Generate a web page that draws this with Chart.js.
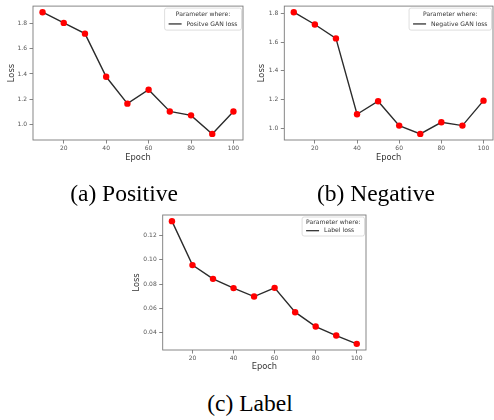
<!DOCTYPE html>
<html>
<head>
<meta charset="utf-8">
<script src="https://cdn.jsdelivr.net/npm/chart.js@4.4.0/dist/chart.umd.min.js"></script>
<style>
  html, body { margin: 0; padding: 0; width: 494px; height: 420px; overflow: hidden; background: #fff; }
  .panel { position: absolute; }
  .cap {
    position: absolute;
    font-family: "Liberation Serif", "DejaVu Serif", serif;
    font-size: 23.5px;
    color: #000;
    transform: translate(-50%, -50%);
    white-space: nowrap;
  }
</style>
</head>
<body>
<div class="panel" style="left:0;top:0"><canvas id="posChart" width="247" height="168"></canvas></div>
<div class="panel" style="left:247px;top:0"><canvas id="negChart" width="250" height="168"></canvas></div>
<div class="panel" style="left:120px;top:200px"><canvas id="lblChart" width="250" height="176"></canvas></div>
<div class="cap" style="left:124px;top:193px">(a) Positive</div>
<div class="cap" style="left:376px;top:193px">(b) Negative</div>
<div class="cap" style="left:250px;top:403px">(c) Label</div>

<script>
// Data
const epochs = [10, 20, 30, 40, 50, 60, 70, 80, 90, 100];
const positiveLoss = [1.89, 1.805, 1.72, 1.378, 1.165, 1.275, 1.103, 1.072, 0.925, 1.103];
const negativeLoss = [1.809, 1.723, 1.626, 1.097, 1.188, 1.018, 0.96, 1.041, 1.018, 1.192];
const labelLoss = [0.1322, 0.0957, 0.0843, 0.0766, 0.0696, 0.0768, 0.0566, 0.0447, 0.0372, 0.0303];

const epochTicks = [20, 40, 60, 80, 100];
const ganLossTicks = [1.0, 1.2, 1.4, 1.6, 1.8];
const labelLossTicks = [0.04, 0.06, 0.08, 0.10, 0.12];

const TICK_FONT = { family: "DejaVu Sans", size: 6 };
const TITLE_FONT = { family: "DejaVu Sans", size: 8.3 };
const TICK_COLOR = "#555";
const SPINE_COLOR = "#7a7a7a";

// matplotlib-like 5% margin around the data
function padRange(vals) {
  const lo = Math.min(...vals), hi = Math.max(...vals);
  const m = (hi - lo) * 0.05;
  return { min: lo - m, max: hi + m };
}

// frame (all four spines) + legend inside the axes, upper right
const framePlugin = {
  id: "frameLegend",
  afterDraw(chart, args, opts) {
    const { ctx, chartArea: a } = chart;
    ctx.save();
    ctx.strokeStyle = SPINE_COLOR;
    ctx.lineWidth = 0.9;
    ctx.strokeRect(a.left, a.top, a.right - a.left, a.bottom - a.top);

    ctx.font = `${opts.fontSize}px "DejaVu Sans"`;
    const titleW = ctx.measureText(opts.title).width;
    const labelW = ctx.measureText(opts.label).width;
    const lineLen = 13, gap = 5, pad = 4;
    const w = Math.max(titleW, lineLen + gap + labelW) + pad * 2;
    const h = opts.height;
    const x = a.right - 1.5 - w, y = a.top + 2;
    ctx.beginPath();
    ctx.roundRect(x, y, w, h, 2);
    ctx.fillStyle = "rgba(255,255,255,0.85)";
    ctx.fill();
    ctx.strokeStyle = "#d6d6d6";
    ctx.lineWidth = 0.8;
    ctx.stroke();

    ctx.fillStyle = "#333";
    ctx.textBaseline = "middle";
    ctx.textAlign = "center";
    ctx.fillText(opts.title, x + w / 2, y + h * 0.3);
    const ly = y + h * 0.72;
    ctx.strokeStyle = "#333";
    ctx.lineWidth = 1.3;
    ctx.beginPath();
    ctx.moveTo(x + pad, ly);
    ctx.lineTo(x + pad + lineLen, ly);
    ctx.stroke();
    ctx.textAlign = "left";
    ctx.fillText(opts.label, x + pad + lineLen + gap, ly);
    ctx.restore();
  }
};

function makeChart(id, values, label, yTicks, decimals, geo) {
  const yr = padRange(values);
  const xr = padRange(epochs);
  return new Chart(document.getElementById(id), {
    type: "line",
    data: {
      datasets: [{
        label,
        data: epochs.map((e, i) => ({ x: e, y: values[i] })),
        borderColor: "#2b2b2b",
        borderWidth: 1.4,
        pointBackgroundColor: "#ff0000",
        pointBorderColor: "#ff0000",
        pointRadius: 3.2,
        pointBorderWidth: 0,
        tension: 0,
        clip: false,
      }],
    },
    options: {
      responsive: false,
      animation: false,
      events: [],
      layout: { padding: { left: 0, top: geo.top, right: geo.right, bottom: 0 } },
      plugins: {
        legend: { display: false },
        tooltip: { enabled: false },
        frameLegend: { title: "Parameter where:", label, fontSize: 6.1, height: geo.legendH },
      },
      scales: {
        x: {
          type: "linear",
          min: xr.min,
          max: xr.max,
          afterBuildTicks: (s) => { s.ticks = epochTicks.map((v) => ({ value: v })); },
          afterFit: (s) => { s.height = geo.xHeight; },
          ticks: { font: TICK_FONT, color: TICK_COLOR, padding: 1.5, maxRotation: 0, callback: (v) => String(v) },
          grid: { drawOnChartArea: false, drawTicks: true, tickLength: 3.5, tickColor: "#666", tickWidth: 0.8 },
          border: { display: false },
          title: { display: true, text: "Epoch", font: TITLE_FONT, color: "#333", padding: { top: 0, bottom: geo.xTitlePad } },
        },
        y: {
          type: "linear",
          min: yr.min,
          max: yr.max,
          afterBuildTicks: (s) => { s.ticks = yTicks.map((v) => ({ value: v })); },
          afterFit: (s) => { s.width = geo.yWidth; },
          ticks: { font: TICK_FONT, color: TICK_COLOR, padding: 2.5, callback: (v) => Number(v).toFixed(decimals) },
          grid: { drawOnChartArea: false, drawTicks: true, tickLength: 3.5, tickColor: "#666", tickWidth: 0.8 },
          border: { display: false },
          title: { display: true, text: "Loss", font: TITLE_FONT, color: "#333", padding: { top: geo.yTitlePad, bottom: 0 } },
        },
      },
    },
    plugins: [framePlugin],
  });
}

makeChart("posChart", positiveLoss, "Positve GAN loss", ganLossTicks, 1,
  { yWidth: 33, top: 3, right: 4, xHeight: 28, xTitlePad: 5, yTitlePad: 7, legendH: 22 });
makeChart("negChart", negativeLoss, "Negative GAN loss", ganLossTicks, 1,
  { yWidth: 37.3, top: 3, right: 1, xHeight: 28, xTitlePad: 5, yTitlePad: 10, legendH: 22 });
makeChart("lblChart", labelLoss, "Label loss", labelLossTicks, 2,
  { yWidth: 42.7, top: 15, right: 2, xHeight: 26, xTitlePad: 4, yTitlePad: 12, legendH: 19 });
</script>
</body>
</html>
